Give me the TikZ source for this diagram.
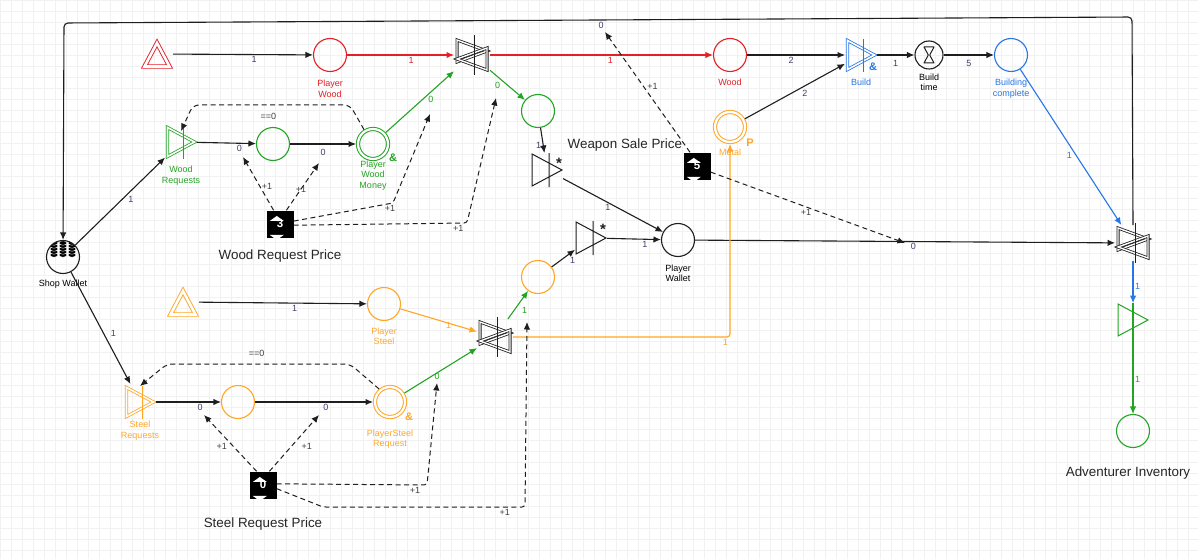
\documentclass[tikz,border=0pt]{standalone}
\usepackage{fontspec}
\setmainfont{Liberation Sans}
\usetikzlibrary{arrows.meta}

\definecolor{mred}{RGB}{226,32,38}
\definecolor{mgreen}{RGB}{36,164,36}
\definecolor{morange}{RGB}{255,166,38}
\definecolor{mblue}{RGB}{38,118,230}
\definecolor{mdark}{RGB}{30,30,30}
\definecolor{lblc}{RGB}{62,62,110}
\definecolor{gridc}{RGB}{241,241,241}

\tikzset{
  >={Latex[length=7.5pt,width=6.5pt]},
  flow/.style={->, line width=1.1pt, #1},
  flow/.default=mdark,
  stateln/.style={->, line width=1pt, mdark, dash pattern=on 5pt off 3.5pt},
  elbl/.style={font=\fontsize{9}{10}\selectfont, inner sep=1.5pt, text=lblc},
  nodecap/.style={font=\fontsize{9}{10.5}\selectfont, align=center, inner sep=1pt},
  bigcap/.style={font=\fontsize{13.4}{15}\selectfont, inner sep=1pt, text=black!85},
  amp/.style={font=\bfseries\fontsize{11}{11}\selectfont, inner sep=0pt},
  starmk/.style={font=\bfseries\fontsize{15}{15}\selectfont, inner sep=0pt, text=mdark},
  pool/.style={circle, draw=#1, line width=1.1pt, minimum size=33pt, inner sep=0pt},
  dpool/.style={circle, draw=#1, line width=1pt, double=white, double distance=2.2pt,
    minimum size=30pt, inner sep=0pt, outer sep=2pt},
  source/.style={rectangle, minimum size=36pt, inner sep=0pt, outer sep=-2pt,
    path picture={\draw[#1, shift={(path picture bounding box.center)}, line width=.9pt,
      double=white, double distance=2.6pt] (-12.5,12.5) -- (0,-11) -- (12.5,12.5) -- cycle;}},
  tri/.style={rectangle, minimum width=34pt, minimum height=36pt, inner sep=0pt, outer sep=-1pt,
    path picture={\draw[#1, shift={(path picture bounding box.center)}, line width=1pt]
      (-15,-16) -- (15,0) -- (-15,16) -- cycle;}},
  conv/.style={rectangle, minimum width=34pt, minimum height=36pt, inner sep=0pt, outer sep=-1pt,
    path picture={\draw[mdark, shift={(path picture bounding box.center)}, line width=1pt]
      (-15,-16) -- (15,0) -- (-15,16) -- cycle (2,-17) -- (2,17);}},
  convd/.style={rectangle, minimum width=36pt, minimum height=40pt, inner sep=0pt, outer sep=-2pt,
    path picture={
      \draw[#1, shift={(path picture bounding box.center)}, line width=.8pt, double=white,
        double distance=1.6pt] (-13.5,-14.5) -- (13.5,0) -- (-13.5,14.5) -- cycle;
      \draw[#1, shift={(path picture bounding box.center)}, line width=1pt] (2,-16) -- (2,17);}},
  trader/.style={rectangle, minimum size=40pt, inner sep=0pt, outer sep=-2pt,
    path picture={
      \draw[mdark, shift={(path picture bounding box.center)}, line width=.8pt, double=white,
        double distance=1.4pt] (-15,-15) -- (15,-4) -- (-15,7) -- cycle;
      \draw[mdark, shift={(path picture bounding box.center)}, line width=.8pt, double=white,
        double distance=1.4pt] (15,-7) -- (-15,4) -- (15,15) -- cycle;
      \draw[mdark, shift={(path picture bounding box.center)}, line width=1pt] (2,-20) -- (2,20);}},
  reg/.style={rectangle, fill=black, minimum size=27pt, inner sep=0pt, text=white,
    font=\bfseries\fontsize{11.5}{11.5}\selectfont,
    path picture={\fill[white, shift={(path picture bounding box.center)}]
      (-7,-7) -- (7,-7) -- (0,-12) -- cycle
      (-7,7) -- (7,7) -- (0,12) -- cycle;}},
  hglass/.style={circle, draw=mdark, line width=1.1pt, minimum size=28pt, inner sep=0pt,
    path picture={\draw[mdark, line width=1pt, line join=round, shift={(path picture bounding box.center)}]
      (-5,-8) -- (5,-8) -- (0.7,0) -- (5,8) -- (-5,8) -- (-0.7,0) -- cycle;}}
}

\begin{document}
\begin{tikzpicture}[x=1pt, y=-1pt]
  \useasboundingbox (0,0) rectangle (1198,559);
  \fill[white] (0,0) rectangle (1198,559);
  \draw[gridc, line width=.4pt, step=11pt] (0,559) grid (1198,0);

  % wood and build chain
  \node[source=mred] (srcW) at (157,54) {};
  \node[pool=mred, label={[nodecap, text=mred, label distance=7pt]below:Player\\Wood}] (pW) at (330,55) {};
  \node[trader] (g1) at (472,55) {};
  \node[pool=mred, label={[nodecap, text=mred, label distance=6pt]below:Wood}] (wood) at (730,55) {};
  \node[convd=mblue, label={[nodecap, text=mblue, label distance=5pt]below:Build}] (build) at (861,55) {};
  \node[hglass, label={[nodecap, label distance=3pt]below:Build\\time}] (btime) at (929,55) {};
  \node[pool=mblue, label={[nodecap, text=mblue, label distance=6pt]below:Building\\complete}] (bdone) at (1011,55) {};
  \node[dpool=morange, label={[nodecap, text=morange, label distance=4pt]below:Metal}] (metal) at (730,127) {};
  \node[trader] (gR) at (1133,243) {};
  \node[tri=mgreen] (sink) at (1133,320) {};
  \node[pool=mgreen, label={[bigcap, label distance=18pt, xshift=-5pt]below:Adventurer Inventory}] (inv) at (1133,431) {};

  % shop and wood requests
  \node[pool=mdark, label={[nodecap, label distance=5pt]below:Shop Wallet},
    path picture={
      \foreach \cx in {-9,0,9}
        \foreach \cy in {-2,-5,-8,-11,-14}
          \filldraw[fill=black, draw=white, line width=.4pt, shift={(path picture bounding box.center)}]
            (\cx,\cy) ellipse (4pt and 2.2pt);}] (shop) at (63,257) {};
  \node[convd=mgreen, label={[nodecap, text=mgreen, label distance=5pt]below:Wood\\Requests}] (wreq) at (181,142) {};
  \node[pool=mgreen] (wpool) at (273,144) {};
  \node[dpool=mgreen, label={[nodecap, text=mgreen, label distance=-1.3pt]below:Player\\Wood\\Money}] (pwm) at (373,144) {};
  \node[pool=mgreen] (gpool) at (538,111) {};
  \node[conv] (conv1) at (547,170) {};
  \node[reg, label={[bigcap, label distance=11pt]below:Wood Request Price}] (reg3) at (280,224) {3};
  \node[reg, label={[bigcap, label distance=0pt]above left:Weapon Sale Price}] (reg5) at (697,166) {5};
  \node[pool=mdark, label={[nodecap, label distance=6.5pt]below:Player\\Wallet}] (pwal) at (678,240) {};

  % steel side
  \node[pool=morange] (opool) at (538,277) {};
  \node[conv] (conv2) at (591,238) {};
  \node[source=morange] (srcS) at (183,302) {};
  \node[pool=morange, label={[nodecap, text=morange, label distance=5.7pt]below:Player\\Steel}] (pSteel) at (384,304) {};
  \node[trader] (g2) at (495,337) {};
  \node[convd=morange, label={[nodecap, text=morange, label distance=0pt]below:Steel\\Requests}] (sreq) at (140,402) {};
  \node[pool=morange] (spool) at (238,402) {};
  \node[dpool=morange, label={[nodecap, text=morange, label distance=9.7pt]below:PlayerSteel\\Request}] (psr) at (390,402) {};
  \node[reg, label={[bigcap, label distance=18pt]below:Steel Request Price}] (reg0) at (263,485) {0};

  \node[amp, text=mgreen] (pwmAmp) at (393,158) {\&};
  \node[amp, text=mblue] (buildAmp) at (873,67) {\&};
  \node[amp, text=morange] (psrAmp) at (409,417) {\&};
  \node[amp, text=morange] (metalP) at (750,143) {P};
  \node[starmk] (conv1Star) at (559,163) {*};
  \node[starmk] (conv2Star) at (603,229) {*};

  \coordinate (lpR) at (1132,17);
  \coordinate (lpL) at (64,23);
  \coordinate (ta) at (243,157);
  \coordinate (tb) at (319,163);
  \coordinate (ca) at (393,203);
  \coordinate (tc) at (430,114);
  \coordinate (cd) at (467,223);
  \coordinate (td) at (496,98);
  \coordinate (ce1) at (350,105);
  \coordinate (ce2) at (193,105);
  \coordinate (tf) at (204,415);
  \coordinate (tg) at (319,415);
  \coordinate (ch) at (427,485);
  \coordinate (th) at (437,383);
  \coordinate (ci1) at (323,507);
  \coordinate (ci2) at (525,507);
  \coordinate (ti) at (527,322);
  \coordinate (cj1) at (350,364);
  \coordinate (cj2) at (167,364);
  \coordinate (tk) at (605,32);
  \coordinate (tl) at (905,243);

  % resource flows
  \draw[flow] (srcW) -- node[elbl, pos=.58, below] (l1) {1} (pW);
  \draw[flow=mred] (pW) -- node[elbl, text=mred, pos=.6, below] (l2) {1} (g1);
  \draw[flow=mred] (g1) -- node[elbl, text=mred, pos=.54, below] (l3) {1} (wood);
  \draw[flow] (wood) -- node[elbl, pos=.45, below] (l4) {2} (build);
  \draw[flow] (metal) -- node[elbl, pos=.6, below=2pt] (l5) {2} (build);
  \draw[flow] (build) -- node[elbl, below=3pt] (l6) {1} (btime);
  \draw[flow] (btime) -- node[elbl, below=3pt] (l7) {5} (bdone);
  \draw[flow=mblue] (bdone) -- node[elbl, text=mblue, pos=.55, left=2pt] (l8) {1} (gR);
  \draw[flow=mblue] (gR) -- node[elbl, text=mblue, pos=.6, right] (l9) {1} (sink);
  \draw[flow=mgreen] (sink.north) -- node[elbl, text=mgreen, pos=.69, right] (l10) {1} (inv);
  \draw[flow, rounded corners=4pt] (gR.north) -- (lpR) -- node[elbl, pos=.497, below] (l11) {0} (lpL) -- (shop);

  \draw[flow] (shop) -- node[elbl, pos=.62, below=3pt] (l12) {1} (wreq);
  \draw[flow] (shop) -- node[elbl, pos=.55, right=5pt] (l13) {1} (sreq);
  \draw[flow] (wreq) -- node[elbl, pos=.72, below] (l14) {0} (wpool);
  \draw[flow] (wpool) -- node[elbl, pos=.5, below=3pt] (l15) {0} (pwm);
  \draw[flow=mgreen] (pwm) -- node[elbl, text=mgreen, pos=.66, below=2pt] (l16) {0} (g1);
  \draw[flow=mgreen] (g1) -- node[elbl, text=mgreen, pos=.35, below left] (l17) {0} (gpool);
  \draw[flow] (gpool) -- node[elbl, pos=.7, left] (l18) {1} (conv1);
  \draw[flow] (conv1) -- node[elbl, pos=.45, below] (l19) {1} (pwal);
  \draw[flow] (opool) -- node[elbl, pos=.9, below=4pt] (l20) {1} (conv2);
  \draw[flow] (conv2) -- node[elbl, pos=.7, below] (l21) {1} (pwal);
  \draw[flow] (pwal) -- node[elbl, pos=.52, below] (l22) {0} (gR);

  \draw[flow] (srcS) -- node[elbl, pos=.57, below] (l23) {1} (pSteel);
  \draw[flow=morange] (pSteel) -- node[elbl, text=morange, pos=.63, below=-3pt] (l24) {1} (g2);
  \draw[flow=mgreen] (g2) -- node[elbl, text=mgreen, pos=.3, right=6pt] (l25) {1} (opool);
  \draw[flow=morange, rounded corners=3pt] (g2) -| node[elbl, text=morange, pos=.5, below left] (l26) {1} (metal);
  \draw[flow] (sreq) -- node[elbl, pos=.68, below] (l27) {0} (spool);
  \draw[flow] (spool) -- node[elbl, pos=.6, below] (l28) {0} (psr);
  \draw[flow=mgreen] (psr) -- node[elbl, text=mgreen, pos=.45, below=-2pt] (l29) {0} (g2);

  % state connections
  \draw[stateln] (reg3.115) -- node[elbl, text=black!75, pos=.45, right] (d1) {+1} (ta);
  \draw[stateln] (reg3.65) -- node[elbl, text=black!75, pos=.45] (d2) {+1} (tb);
  \draw[stateln, rounded corners=3pt] (reg3.12) -- node[elbl, text=black!75, pos=.97, below] (d3) {+1} (ca) -- (tc);
  \draw[stateln, rounded corners=3pt] (reg3.-5) -- node[elbl, text=black!75, pos=.95, below] (d4) {+1} (cd) -- (td);
  \draw[stateln, rounded corners=6pt] (pwm.122) -- (ce1) -- node[elbl, text=black!75, pos=.52, below=6pt] (d5) {==0} (ce2) -- ([yshift=-7pt]wreq.north);

  \draw[stateln] (reg0.115) -- node[elbl, text=black!75, pos=.45, left=4pt] (d6) {+1} (tf);
  \draw[stateln] (reg0.65) -- node[elbl, text=black!75, pos=.45, right=8pt] (d7) {+1} (tg);
  \draw[stateln, rounded corners=3pt] (reg0.5) -- node[elbl, text=black!75, pos=.92, below] (d8) {+1} (ch) -- (th);
  \draw[stateln, rounded corners=3pt] (reg0.-15) -- (ci1) -- node[elbl, text=black!75, pos=.9, below] (d9) {+1} (ci2) -- (ti);
  \draw[stateln, rounded corners=6pt] (psr.130) -- (cj1) -- node[elbl, text=black!75, pos=.51, above=5pt] (d10) {==0} (cj2) -- ([yshift=-2pt]sreq.north);

  \draw[stateln] (reg5.117) -- node[elbl, text=black!75, pos=.55, right=2pt] (d11) {+1} (tk);
  \draw[stateln] (reg5.-24) -- node[elbl, text=black!75, pos=.49, below] (d12) {+1} (tl);
\end{tikzpicture}
\end{document}
